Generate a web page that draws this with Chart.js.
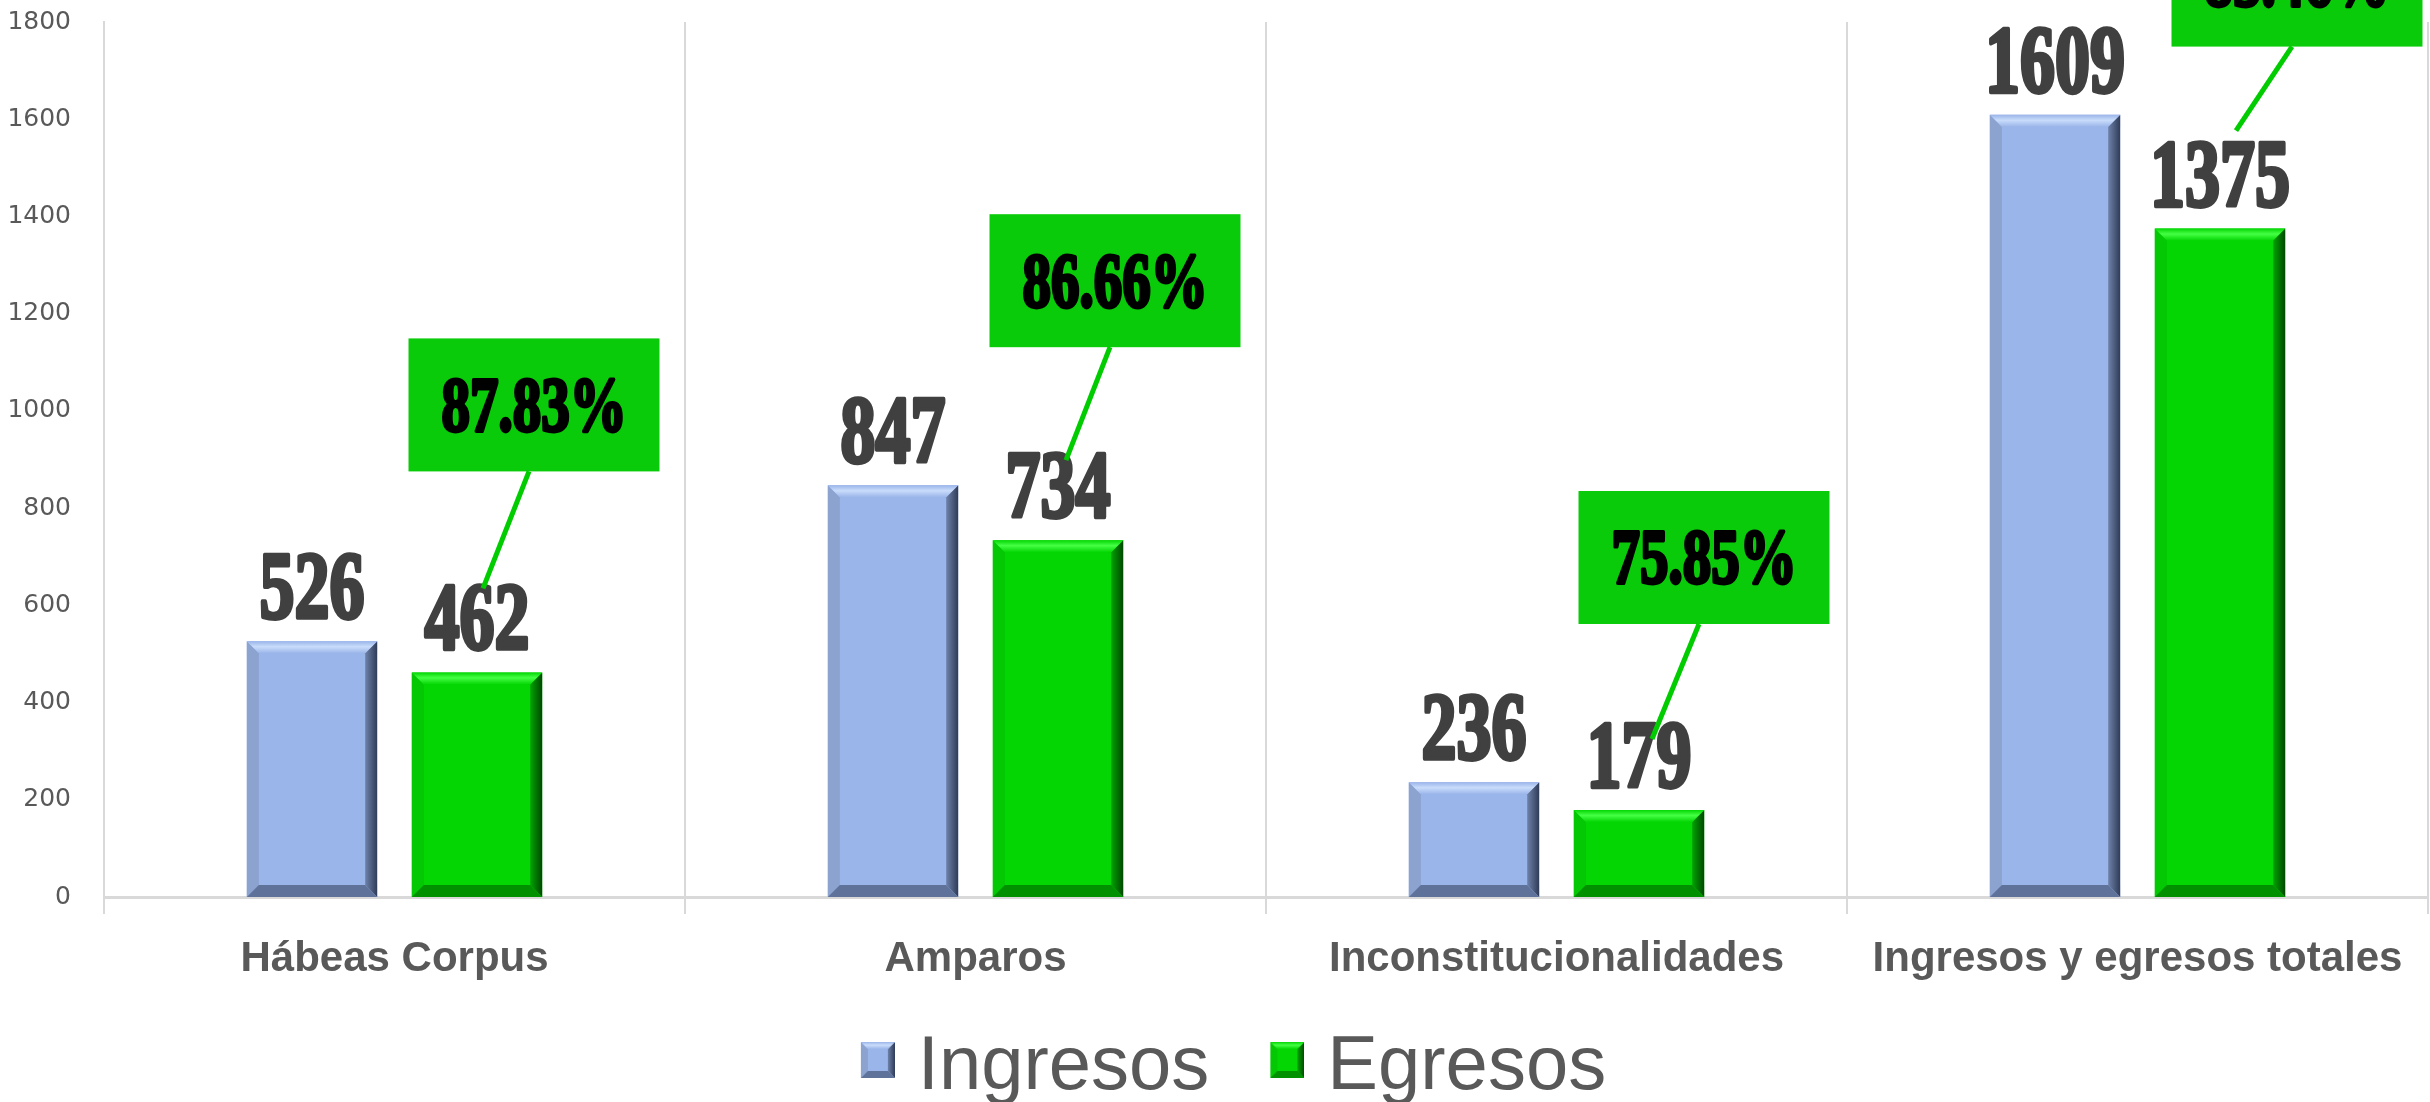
<!DOCTYPE html>
<html>
<head>
<meta charset="utf-8">
<script src="https://cdn.jsdelivr.net/npm/chart.js@4.4.1/dist/chart.umd.min.js"></script>
<style>
  html, body { margin: 0; padding: 0; background: #fff; }
  canvas { display: block; }
</style>
</head>
<body>
<canvas id="grafica" width="2430" height="1102"></canvas>
<script>
// datos
const categorias = ['Hábeas Corpus', 'Amparos', 'Inconstitucionalidades', 'Ingresos y egresos totales'];
const ingresos = [526, 847, 236, 1609];
const egresos = [462, 734, 179, 1375];
const ejeMin = 0, ejeMax = 1800, ejePaso = 200;

// porcentaje de egresos sobre ingresos
const porcentajes = egresos.map((e, i) => (e / ingresos[i] * 100).toFixed(2) + '%');

// ubicación de cada recuadro respecto a su barra de egresos (dx, altura sobre la barra, punta de la línea)
const recuadros = [
    { dx: 57, sobre: 201, px: 6, py: 84 },
    { dx: 57, sobre: 193, px: 8, py: 80 },
    { dx: 65, sobre: 186, px: 13, py: 71 },
    { dx: 77, sobre: 182, px: 16, py: 98 }
];

// colores del bisel por serie
const estilos = [
    { base: '#9AB5EA', claro: '#C9DCFA', izq: '#8CA2CF', der1: '#6E82AA', der2: '#2F3B57', abajo: '#5F7299' },
    { base: '#04D604', claro: '#45FF45', izq: '#03C803', der1: '#00A400', der2: '#004800', abajo: '#009000' }
];

function poligono(ctx, pts, fill) {
    ctx.beginPath();
    ctx.moveTo(pts[0][0], pts[0][1]);
    for (let k = 1; k < pts.length; k++) ctx.lineTo(pts[k][0], pts[k][1]);
    ctx.closePath();
    ctx.fillStyle = fill;
    ctx.fill();
}

function biselar(ctx, l, t, r, b, e, s) {
    if (b - t < 2 * s) s = Math.max(1, (b - t) / 2);
    ctx.save();
    // izquierda
    poligono(ctx, [[l, t], [l + s, t + s], [l + s, b - s], [l, b]], e.izq);
    // derecha
    const gd = ctx.createLinearGradient(r - s, 0, r, 0);
    gd.addColorStop(0, e.der1);
    gd.addColorStop(1, e.der2);
    poligono(ctx, [[r, t], [r, b], [r - s, b - s], [r - s, t + s]], gd);
    // abajo
    poligono(ctx, [[l, b], [r, b], [r - s, b - s], [l + s, b - s]], e.abajo);
    // arriba
    const ga = ctx.createLinearGradient(0, t, 0, t + s);
    ga.addColorStop(0, e.base);
    ga.addColorStop(0.45, e.claro);
    ga.addColorStop(1, e.base);
    poligono(ctx, [[l, t], [r, t], [r - s, t + s], [l + s, t + s]], ga);
    ctx.restore();
}

// cuadritos de la leyenda (corridos a la derecha y arriba dentro de la imagen)
const cuadros = estilos.map(e => {
    const c = document.createElement('canvas');
    c.width = 64; c.height = 52;
    const g = c.getContext('2d');
    g.fillStyle = e.base;
    g.fillRect(30, 0, 34, 36);
    biselar(g, 30, 0, 64, 36, e, 7);
    return c;
});

function textoAlto(ctx, txt, x, y, size, sy, color, grosor) {
    ctx.save();
    ctx.translate(x, y);
    ctx.scale(1, sy);
    ctx.font = 'bold ' + size + 'px "Liberation Serif"';
    ctx.textAlign = 'center';
    ctx.textBaseline = 'alphabetic';
    ctx.fillStyle = color;
    ctx.strokeStyle = color;
    ctx.lineWidth = grosor;
    ctx.lineJoin = 'round';
    ctx.fillText(txt, 0, 0);
    ctx.strokeText(txt, 0, 0);
    ctx.restore();
}

const biselPlugin = {
    id: 'bisel',
    afterLayout(chart) {
        // la leyenda va un poco a la derecha del centro
        chart.legend.left += 12;
        chart.legend.right += 12;
    },
    afterDatasetsDraw(chart) {
        const ctx = chart.ctx;
        chart.data.datasets.forEach((ds, i) => {
            chart.getDatasetMeta(i).data.forEach(bar => {
                const p = bar.getProps(['x', 'y', 'base', 'width'], true);
                biselar(ctx, p.x - p.width / 2, p.y, p.x + p.width / 2, p.base, estilos[i], 12);
            });
        });
    }
};

const etiquetasPlugin = {
    id: 'etiquetas',
    afterDraw(chart) {
        const ctx = chart.ctx;
        // valores sobre las barras
        chart.data.datasets.forEach((ds, i) => {
            chart.getDatasetMeta(i).data.forEach((bar, j) => {
                textoAlto(ctx, String(ds.data[j]), bar.x, bar.y - 23, 70, 1.36, '#404040', 3.2);
            });
        });
        // recuadros de porcentaje
        chart.getDatasetMeta(1).data.forEach((bar, j) => {
            const r = recuadros[j];
            const w = 251, h = 133;
            const cx = bar.x + r.dx, abajo = bar.y - r.sobre;
            ctx.fillStyle = '#0ACB0A';
            ctx.fillRect(cx - w / 2, abajo - h, w, h);
            textoAlto(ctx, porcentajes[j], cx, abajo - h / 2 + 26, 57, 1.37, '#000', 2.8);
            ctx.save();
            ctx.strokeStyle = '#00CC00';
            ctx.lineWidth = 5;
            ctx.beginPath();
            ctx.moveTo(cx - 5, abajo);
            ctx.lineTo(bar.x + r.px, bar.y - r.py);
            ctx.stroke();
            ctx.restore();
        });
    }
};

new Chart(document.getElementById('grafica'), {
    type: 'bar',
    data: {
        labels: categorias,
        datasets: [
            { label: 'Ingresos', data: ingresos, backgroundColor: estilos[0].base, borderWidth: 0 },
            { label: 'Egresos', data: egresos, backgroundColor: estilos[1].base, borderWidth: 0 }
        ]
    },
    options: {
        responsive: false,
        animation: false,
        events: [],
        categoryPercentage: 0.568,
        barPercentage: 0.79,
        layout: { padding: { top: 22, right: 2, left: 0, bottom: -14 } },
        scales: {
            x: {
                grid: { color: '#D9D9D9', lineWidth: 2, tickLength: 17, offset: true },
                border: { color: '#D9D9D9', width: 3 },
                ticks: {
                    color: '#595959',
                    font: { family: 'Liberation Sans', size: 42, weight: 'bold' },
                    padding: 20, maxRotation: 0, autoSkip: false
                },
                afterFit(s) { s.height = 87; }
            },
            y: {
                min: ejeMin, max: ejeMax,
                ticks: {
                    stepSize: ejePaso,
                    color: '#595959',
                    font: { family: 'DejaVu Sans', size: 25 },
                    padding: 0,
                    callback: v => String(v)
                },
                grid: { display: false, drawTicks: true, tickLength: 33 },
                border: { display: true, color: '#D9D9D9', width: 2 },
                afterFit(s) { s.width = 104; }
            }
        },
        plugins: {
            tooltip: { enabled: false },
            legend: {
                position: 'bottom',
                labels: {
                    usePointStyle: true,
                    boxWidth: 34, boxHeight: 34,
                    padding: 46,
                    color: '#595959',
                    font: { family: 'Liberation Sans', size: 76 },
                    generateLabels(chart) {
                        const items = Chart.defaults.plugins.legend.labels.generateLabels(chart);
                        items.forEach((it, i) => { it.pointStyle = cuadros[i]; });
                        return items;
                    }
                }
            }
        }
    },
    plugins: [biselPlugin, etiquetasPlugin]
});
</script>
</body>
</html>
